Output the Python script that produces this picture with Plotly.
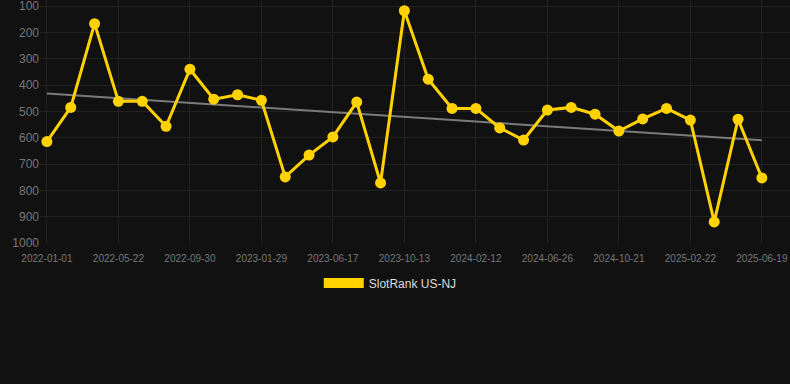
import numpy as np
import plotly.graph_objects as go

# ---- data ----
tick_labels = ["2022-01-01", "2022-05-22", "2022-09-30", "2023-01-29", "2023-06-17",
               "2023-10-13", "2024-02-12", "2024-06-26", "2024-10-21", "2025-02-22",
               "2025-06-19"]
rank_values = [615, 485, 167, 462, 462, 557, 340, 454, 437, 458,
               749, 666, 597, 465, 772, 118, 378, 489, 489, 563,
               609, 495, 485, 511, 575, 529, 489, 533, 920, 530, 753]
y_ticks = [100, 200, 300, 400, 500, 600, 700, 800, 900, 1000]
series_name = "SlotRank US-NJ"

idx = list(range(len(rank_values)))
tick_idx = idx[::3]

# linear trend through the series
slope, intercept = np.polyfit(idx, rank_values, 1)
trend = [slope * i + intercept for i in idx]

fig = go.Figure()
fig.add_trace(go.Scatter(
    x=idx, y=trend, mode="lines",
    line=dict(color="#7a7a7a", width=2),
    showlegend=False, hoverinfo="skip"))
fig.add_trace(go.Scatter(
    x=idx, y=rank_values, mode="lines+markers",
    line=dict(color="#FFD200", width=3),
    marker=dict(color="#FFD200", size=11),
    name=series_name, showlegend=False))
# legend swatch
fig.add_trace(go.Scatter(
    x=[None], y=[None], mode="lines",
    line=dict(color="#FFD200", width=11),
    name=series_name, showlegend=True))

fig.update_layout(
    width=790, height=384,
    paper_bgcolor="#111111", plot_bgcolor="#111111",
    margin=dict(l=40, r=0, t=0, b=141, autoexpand=False),
    font=dict(family="Liberation Sans, Arial, sans-serif", color="#777777"),
    showlegend=True,
    legend=dict(orientation="h", xref="container", x=0.494, xanchor="center",
                yref="container", y=0.263, yanchor="middle",
                font=dict(size=12, color="#dddddd"), itemwidth=40),
    xaxis=dict(range=[-0.29, 31.18], tickmode="array", tickvals=tick_idx,
               ticktext=tick_labels, tickfont=dict(size=10, color="#777777"),
               showgrid=True, gridcolor="#222222", zeroline=False,
               showline=False, ticks="outside", ticklen=6,
               tickcolor="rgba(0,0,0,0)", automargin=False,
               ticklabeloverflow="allow"),
    yaxis=dict(range=[1000, 77.2], tickmode="array", tickvals=y_ticks,
               tickfont=dict(size=12, color="#777777"),
               showgrid=True, gridcolor="#222222", zeroline=False,
               showline=False, ticks="", automargin=False,
               ticklabeloverflow="allow"),
)

fig.write_html("out.html",
               config={"displayModeBar": False},
               post_script="document.body.style.margin='0';"
                           "document.body.style.background='#111111';")
